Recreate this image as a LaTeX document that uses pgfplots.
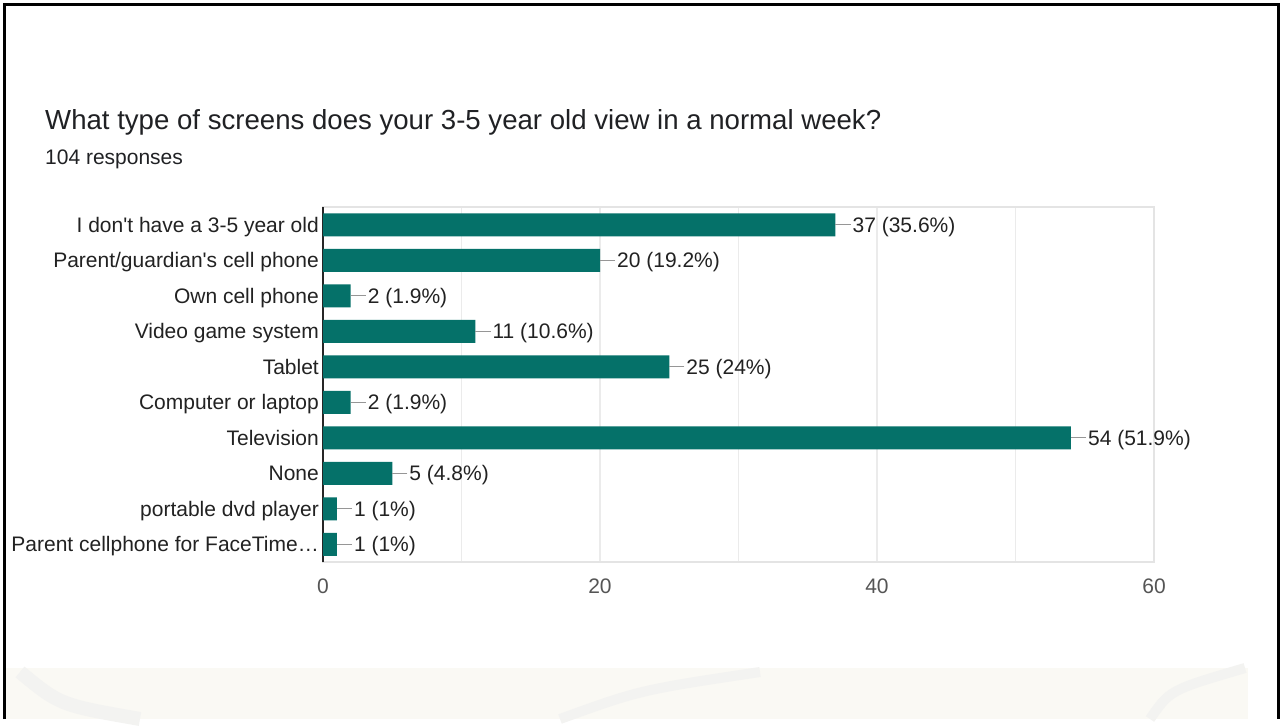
\documentclass[border=0pt]{standalone}
\usepackage{fontspec}
\setmainfont{Liberation Sans}
\usepackage{pgfplots}
\usepackage{pgfplotstable}
\pgfplotsset{compat=1.18}

\definecolor{barteal}{RGB}{5,113,105}
\definecolor{titlecol}{RGB}{32,33,36}
\definecolor{labeldark}{RGB}{34,34,34}
\definecolor{tickgray}{RGB}{85,85,85}
\definecolor{gridgray}{RGB}{235,235,235}
\definecolor{framegray}{RGB}{228,228,228}
\definecolor{linegray}{RGB}{150,150,150}
\definecolor{wmbeige}{RGB}{250,249,244}
\definecolor{wmgray}{RGB}{243,243,241}

% answers, top to bottom (pos 0 = first row)
\pgfplotstableread[col sep=comma]{
count,pos,label
37,0,37 (35.6\%)
20,1,20 (19.2\%)
2,2,2 (1.9\%)
11,3,11 (10.6\%)
25,4,25 (24\%)
2,5,2 (1.9\%)
54,6,54 (51.9\%)
5,7,5 (4.8\%)
1,8,1 (1\%)
1,9,1 (1\%)
}\screens

\newcommand{\lbl}{\fontsize{21bp}{25bp}\selectfont}

\begin{document}
\begin{tikzpicture}
% page, frame and the faded watermark strip at the bottom
\fill[white] (0,0) rectangle (1281bp,-719bp);
\fill[wmbeige] (5bp,-668bp) rectangle (1248bp,-719bp);
\draw[wmgray, line width=14bp] (20bp,-672bp) .. controls (60bp,-705bp) .. (140bp,-719bp);
\draw[wmgray, line width=10bp] (560bp,-719bp) .. controls (640bp,-690bp) .. (760bp,-672bp);
\draw[wmgray, line width=10bp] (1150bp,-719bp) .. controls (1170bp,-690bp) .. (1245bp,-668bp);
\draw[black, line width=3bp] (4bp,-719bp) -- (4bp,-4bp) -- (1278.5bp,-4bp) -- (1278.5bp,-719bp);

\node[anchor=base west, inner sep=0pt, text=titlecol, font=\fontsize{27.6bp}{32bp}\selectfont]
  at (45bp,-129bp) {What type of screens does your 3-5 year old view in a normal week?};
\node[anchor=base west, inner sep=0pt, text=titlecol, font=\lbl]
  at (45bp,-164bp) {104 responses};

\begin{axis}[
  at={(323bp,-562bp)}, anchor=south west,
  scale only axis, width=831bp, height=355bp,
  xbar, bar width=23bp,
  xmin=0, xmax=60, ymin=-0.5, ymax=9.5, y dir=reverse,
  xtick={0,20,40,60}, minor xtick={10,30,50},
  xmajorgrids, xminorgrids,
  major grid style={gridgray, line width=1.2bp},
  minor grid style={gridgray, line width=1.2bp},
  extra x ticks={0}, extra x tick labels={},
  extra x tick style={major grid style={black!85, line width=1.6bp}},
  major tick length=0pt, minor tick length=0pt,
  axis line style={framegray, line width=1.5bp},
  ytick={0,...,9},
  yticklabels={{I don\textquotesingle t have a 3-5 year old},{Parent/guardian\textquotesingle s cell phone},{Own cell phone},{Video game system},{Tablet},{Computer or laptop},{Television},{None},{portable dvd player},{Parent cellphone for FaceTime…}},
  yticklabel style={font=\lbl, text=labeldark, anchor=base east, inner sep=0pt, xshift=-4bp, yshift=-7.5bp},
  xticklabel style={font=\lbl, text=tickgray, anchor=base, inner sep=0pt, yshift=-31bp},
  /pgf/number format/assume math mode=true,
  clip=false,
]
\addplot[fill=barteal, draw=none,
  point meta=explicit symbolic,
  nodes near coords={\pgfplotspointmeta},
  nodes near coords style={font=\lbl, text=labeldark, anchor=base west, inner sep=0pt, xshift=17bp, yshift=-7.5bp},
  error bars/.cd, x dir=plus, x fixed=1.1, error mark=none,
  error bar style={linegray, line width=1.3bp}]
  table[x=count, y=pos, meta=label] {\screens};
\end{axis}
\end{tikzpicture}
\end{document}
